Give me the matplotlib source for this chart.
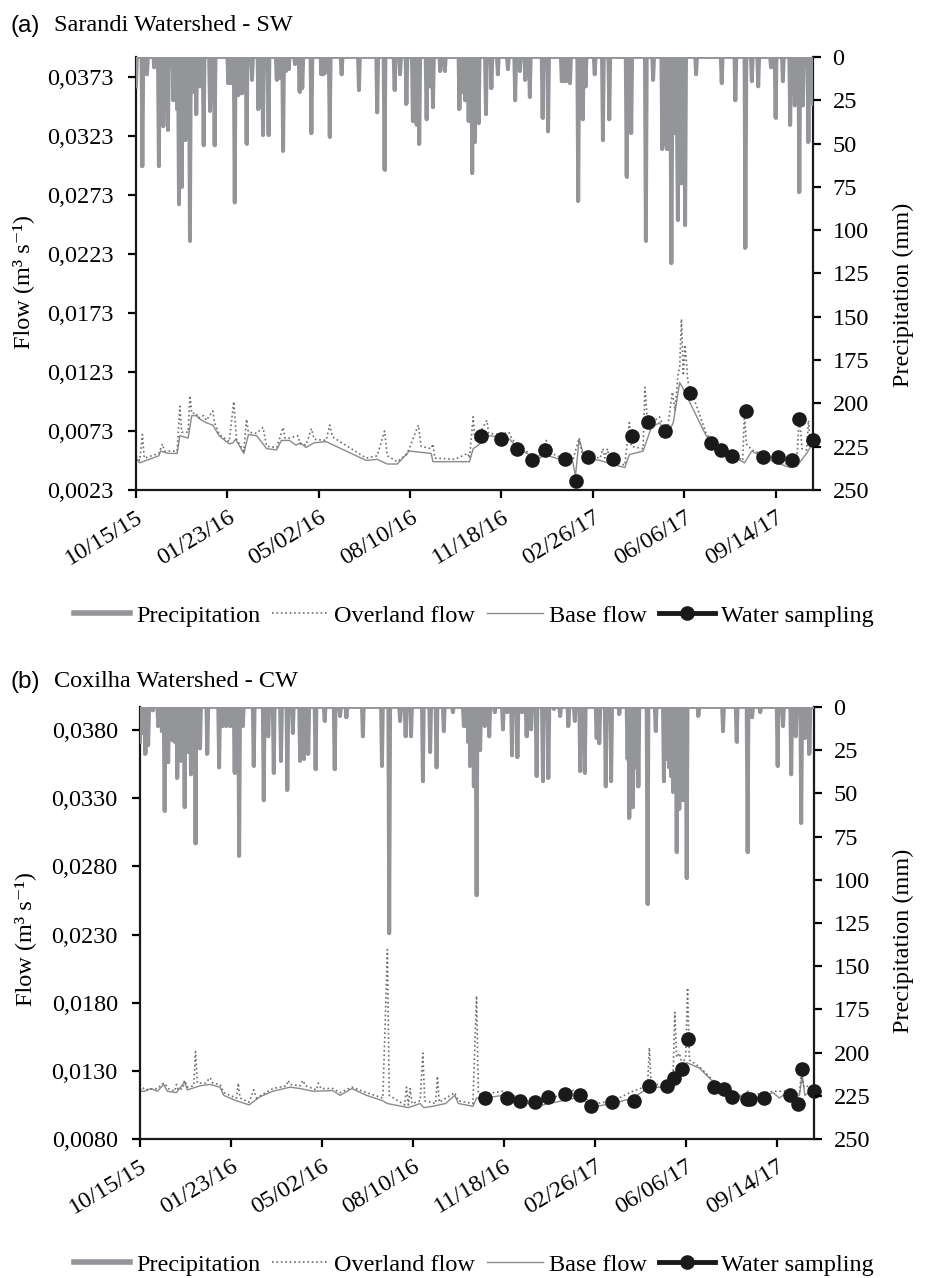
import numpy as np
import matplotlib
matplotlib.use("Agg")
import matplotlib.pyplot as plt
from matplotlib.lines import Line2D

plt.rcParams['font.family'] = ['Liberation Serif', 'DejaVu Serif']

FS = 17.5
PRECIP_COLOR = '#939598'
FLOW_COLOR = '#8a8a8a'
N_DAYS = 742  # 10/15/15 .. early Nov 2017

date_ticks = [0, 100, 200, 300, 400, 500, 600, 700]
date_labels = ['10/15/15', '01/23/16', '05/02/16', '08/10/16',
               '11/18/16', '02/26/17', '06/06/17', '09/14/17']
precip_ticks = [0, 25, 50, 75, 100, 125, 150, 175, 200, 225, 250]

# ---------------- Sarandi Watershed (SW) ----------------
sw_flow_ticks = [0.0023, 0.0073, 0.0123, 0.0173, 0.0223, 0.0273, 0.0323, 0.0373]

sw_rain_days = [0, 7, 12, 20, 25, 30, 35, 39, 41, 43, 45, 47, 50, 52, 54, 56, 59, 61, 63, 66,
                68, 70, 74, 81, 86, 101, 102, 103, 104, 105, 106, 108, 112, 116, 121, 127,
                134, 139, 145, 154, 156, 158, 161, 164, 167, 174, 179, 182, 192, 203, 205,
                207, 212, 225, 244, 264, 272, 283, 289, 296, 303, 307, 310, 318, 322, 325,
                333, 338, 354, 357, 360, 364, 368, 371, 375, 383, 389, 396, 407, 415, 420,
                426, 431, 445, 451, 466, 468, 471, 475, 484, 489, 492, 502, 511, 518, 537,
                542, 558, 566, 576, 577, 578, 579, 580, 581, 582, 583, 584, 585, 586, 587,
                588, 589, 590, 591, 592, 593, 594, 595, 596, 597, 598, 599, 600, 601, 613,
                641, 656, 667, 674, 681, 695, 700, 708, 716, 721, 726, 730, 736, 741]
sw_rain_mm = [17, 63, 10, 6, 63, 40, 42, 6, 25, 20, 30, 85, 75, 40, 48, 30, 106, 15, 20, 33,
              12, 17, 51, 31, 51, 15, 14, 15, 13, 15, 14, 84, 22, 21, 50, 13,
              30, 45, 45, 13, 10, 12, 54, 8, 7, 4, 20, 18, 44, 10, 10,
              9, 46, 10, 19, 32, 65, 19, 10, 27, 37, 39, 50, 36, 17, 29,
              8, 8, 30, 20, 25, 37, 67, 49, 38, 33, 18, 10, 7, 25, 8,
              13, 23, 35, 43, 14, 14, 14, 15, 83, 36, 17, 10, 48, 36, 69,
              44, 106, 13, 53, 40, 50, 30, 45, 53, 53, 35, 20, 30, 119, 25,
              40, 30, 44, 20, 35, 94, 30, 40, 25, 73, 20, 30, 15, 97, 10,
              15, 25, 110, 14, 17, 6, 35, 14, 39, 28, 78, 28, 49, 27]

sw_base_days = [0, 4, 25, 27, 35, 45, 48, 57, 61, 66, 70, 77, 84, 91, 102, 106, 109, 118,
                123, 132, 143, 154, 159, 168, 175, 180, 186, 195, 208, 252, 264, 275, 286,
                299, 323, 325, 365, 369, 373, 386, 398, 409, 418, 433, 442, 447, 464, 478,
                481, 485, 491, 508, 516, 535, 540, 555, 564, 573, 581, 588, 595, 598, 624,
                632, 650, 666, 674, 683, 701, 716, 723, 734, 741]
sw_base_flow = [0.0050, 0.0046, 0.0052, 0.0056, 0.0054, 0.0054, 0.0069, 0.0067, 0.0086,
                0.0086, 0.0083, 0.0080, 0.0078, 0.0069, 0.0062, 0.0063, 0.0066, 0.0054,
                0.0070, 0.0069, 0.0058, 0.0057, 0.0065, 0.0065, 0.0061, 0.0063, 0.0059,
                0.0063, 0.0064, 0.0048, 0.0049, 0.0045, 0.0045, 0.0056, 0.0054, 0.0047,
                0.0047, 0.0058, 0.0060, 0.0069, 0.0068, 0.0066, 0.0058, 0.0052, 0.0050,
                0.0053, 0.0049, 0.0047, 0.0035, 0.0066, 0.0050, 0.0048, 0.0046, 0.0042,
                0.0053, 0.0056, 0.0076, 0.0080, 0.0069, 0.0080, 0.0114, 0.0110, 0.0069,
                0.0062, 0.0053, 0.0046, 0.0056, 0.0052, 0.0046, 0.0042, 0.0043, 0.0054,
                0.0063]

sw_over_days = [0, 4, 7, 9, 25, 29, 31, 45, 48, 50, 57, 59, 61, 66, 68, 74, 77, 84, 86, 91,
                102, 107, 110, 118, 121, 123, 132, 139, 143, 154, 161, 163, 168, 177, 180,
                186, 192, 195, 208, 212, 215, 252, 264, 272, 275, 286, 296, 299, 309, 312,
                323, 325, 327, 349, 363, 365, 369, 371, 384, 386, 398, 408, 411, 418, 433,
                442, 449, 452, 464, 467, 478, 485, 488, 491, 508, 511, 513, 516, 518, 535,
                540, 542, 555, 557, 560, 564, 573, 578, 581, 587, 590, 593, 595, 597, 599,
                601, 604, 624, 632, 650, 664, 666, 668, 674, 683, 701, 716, 723, 726, 729,
                734, 736, 738, 741]
sw_over_flow = [0.0052, 0.0048, 0.0070, 0.0050, 0.0054, 0.0062, 0.0056, 0.0056, 0.0094,
                0.0072, 0.0072, 0.0103, 0.0088, 0.0088, 0.0084, 0.0086, 0.0082, 0.0090,
                0.0080, 0.0070, 0.0064, 0.0098, 0.0066, 0.0056, 0.0083, 0.0072, 0.0071,
                0.0076, 0.0060, 0.0059, 0.0076, 0.0067, 0.0067, 0.0069, 0.0062, 0.0061,
                0.0075, 0.0066, 0.0065, 0.0078, 0.0068, 0.0050, 0.0052, 0.0073, 0.0052,
                0.0047, 0.0053, 0.0058, 0.0078, 0.0060, 0.0058, 0.0062, 0.0050, 0.0049,
                0.0054, 0.0050, 0.0085, 0.0064, 0.0082, 0.0071, 0.0070, 0.0072, 0.0067,
                0.0060, 0.0053, 0.0052, 0.0065, 0.0055, 0.0051, 0.0049, 0.0048, 0.0067,
                0.0055, 0.0052, 0.0050, 0.0058, 0.0050, 0.0058, 0.0049, 0.0044, 0.0080,
                0.0060, 0.0058, 0.0110, 0.0078, 0.0080, 0.0085, 0.0075, 0.0071, 0.0106,
                0.0090, 0.0120, 0.0127, 0.0168, 0.0120, 0.0146, 0.0115, 0.0071, 0.0063,
                0.0055, 0.0048, 0.0089, 0.0062, 0.0057, 0.0054, 0.0048, 0.0044, 0.0045,
                0.0086, 0.0058, 0.0057, 0.0082, 0.0062, 0.0065]

sw_sample_days = [378, 400, 417, 433, 448, 470, 482, 495, 522, 543, 560, 579, 606, 629,
                  640, 652, 668, 686, 703, 718, 726, 741]
sw_sample_flow = [0.0069, 0.0066, 0.0058, 0.0048, 0.0057, 0.0049, 0.0031, 0.0051, 0.0049,
                  0.0069, 0.0081, 0.0073, 0.0105, 0.0063, 0.0057, 0.0052, 0.0090, 0.0051,
                  0.0051, 0.0048, 0.0083, 0.0065]

# ---------------- Coxilha Watershed (CW) ----------------
cw_flow_ticks = [0.0080, 0.0130, 0.0180, 0.0230, 0.0280, 0.0330, 0.0380]

cw_rain_days = [0, 2, 6, 9, 14, 20, 24, 27, 29, 31, 33, 35, 38, 41, 45, 49, 53, 56, 61, 63,
                66, 74, 87, 91, 93, 95, 97, 99, 102, 104, 109, 113, 125, 136, 141, 147, 155,
                162, 168, 176, 180, 185, 193, 203, 214, 220, 227, 245, 266, 274, 286, 292,
                298, 311, 319, 326, 334, 344, 356, 358, 361, 363, 367, 370, 374, 379, 384,
                390, 399, 404, 409, 415, 420, 425, 430, 436, 443, 449, 455, 462, 471, 478,
                484, 489, 502, 505, 512, 518, 527, 536, 538, 540, 542, 545, 548, 558, 567,
                576, 578, 580, 582, 584, 586, 588, 590, 592, 593, 595, 597, 599, 601, 614,
                641, 656, 668, 673, 682, 701, 707, 716, 721, 727, 731, 736]
cw_rain_mm = [20, 15, 27, 22, 2, 11, 14, 60, 18, 32, 15, 19, 20, 41, 31, 58, 26, 39, 79, 22,
              24, 27, 35, 11, 10, 11, 10, 11, 11, 38, 86, 11, 34, 54, 17, 38, 31,
              48, 15, 31, 30, 27, 36, 8, 36, 5, 6, 17, 34, 131, 8, 17,
              17, 43, 26, 35, 14, 3, 11, 11, 20, 34, 46, 109, 25, 11, 17,
              3, 13, 3, 28, 29, 3, 17, 13, 40, 43, 41, 1, 5, 11, 8,
              37, 38, 18, 21, 46, 43, 4, 30, 64, 40, 58, 35, 46, 114, 14,
              43, 30, 30, 35, 40, 49, 35, 84, 40, 59, 45, 54, 35, 99, 5,
              14, 20, 84, 6, 3, 34, 11, 39, 17, 67, 18, 27]

cw_base_days = [0, 5, 12, 19, 26, 30, 40, 49, 52, 66, 77, 88, 92, 106, 120, 132, 146, 165,
                176, 190, 212, 220, 233, 249, 267, 272, 295, 308, 312, 322, 336, 346, 350,
                366, 370, 379, 399, 421, 436, 478, 491, 502, 520, 542, 560, 586, 593, 601,
                615, 630, 641, 656, 670, 680, 696, 703, 711, 718, 725, 728, 731, 741]
cw_base_flow = [0.0115, 0.0115, 0.0117, 0.0115, 0.0120, 0.0115, 0.0114, 0.0122, 0.0116,
                0.0119, 0.0120, 0.0118, 0.0112, 0.0108, 0.0105, 0.0111, 0.0115, 0.0118,
                0.0117, 0.0115, 0.01155, 0.0112, 0.0117, 0.0112, 0.0108, 0.0106, 0.0103,
                0.0106, 0.0103, 0.0104, 0.0106, 0.0112, 0.0106, 0.0104, 0.0110, 0.0110,
                0.0112, 0.0107, 0.0104, 0.0110, 0.0107, 0.0104, 0.0106, 0.0110, 0.0118,
                0.0118, 0.0128, 0.0136, 0.0132, 0.0122, 0.0117, 0.0111, 0.0111, 0.0110,
                0.0114, 0.0110, 0.0114, 0.0110, 0.0112, 0.0127, 0.0112, 0.0117]

cw_over_days = [0, 3, 5, 19, 26, 28, 31, 38, 40, 42, 47, 49, 52, 59, 61, 63, 72, 77, 80, 88,
                92, 106, 108, 110, 120, 125, 128, 146, 161, 163, 165, 176, 179, 182, 194,
                196, 199, 212, 220, 233, 249, 267, 272, 274, 291, 293, 295, 297, 299, 308,
                311, 313, 325, 327, 329, 346, 350, 366, 370, 372, 379, 399, 421, 436, 478,
                491, 502, 520, 542, 558, 560, 562, 580, 586, 588, 590, 593, 596, 600, 602,
                604, 615, 630, 641, 656, 666, 668, 670, 696, 711, 725, 727, 730, 736, 741]
cw_over_flow = [0.0116, 0.0118, 0.0116, 0.0117, 0.0121, 0.0120, 0.0117, 0.0115, 0.0120,
                0.0116, 0.0117, 0.0123, 0.0118, 0.0119, 0.0144, 0.0121, 0.0121, 0.0125,
                0.0121, 0.0120, 0.0114, 0.0110, 0.0121, 0.0110, 0.0107, 0.0116, 0.0110,
                0.0117, 0.0119, 0.0123, 0.0120, 0.0119, 0.0123, 0.0119, 0.0116, 0.0121,
                0.0117, 0.0117, 0.0114, 0.0118, 0.0114, 0.0110, 0.0219, 0.0112, 0.0105,
                0.0118, 0.0105, 0.0117, 0.0106, 0.0108, 0.0143, 0.0108, 0.0106, 0.0126,
                0.0107, 0.0114, 0.0108, 0.0106, 0.0185, 0.0113, 0.0113, 0.0115, 0.0109,
                0.0106, 0.0116, 0.0109, 0.0106, 0.0108, 0.0115, 0.0119, 0.0147, 0.0120,
                0.0120, 0.0125, 0.0173, 0.0140, 0.0143, 0.0135, 0.0140, 0.0191, 0.0138,
                0.0133, 0.0123, 0.0118, 0.0112, 0.0112, 0.0116, 0.0112, 0.0115, 0.0115,
                0.0113, 0.0128, 0.0118, 0.0119, 0.0118]

cw_sample_days = [379, 404, 418, 434, 449, 467, 484, 496, 519, 543, 560, 579, 587, 596,
                  603, 631, 642, 651, 667, 671, 686, 715, 723, 728, 741]
cw_sample_flow = [0.0110, 0.0110, 0.0108, 0.0107, 0.0111, 0.0113, 0.0112, 0.0104, 0.0107,
                  0.0108, 0.0119, 0.0119, 0.01245, 0.0131, 0.0153, 0.0118, 0.0117, 0.0111,
                  0.0109, 0.0109, 0.0110, 0.0112, 0.0106, 0.0131, 0.0115]


def fmt_flow(v):
    return f'{v:.4f}'.replace('.', ',')


def draw_panel(rect, flow_ticks, rain_days, rain_mm, base_days, base_flow,
               over_days, over_flow, sample_days, sample_flow):
    ax = fig.add_axes(rect)
    ax2 = ax.twinx()

    ax.plot(base_days, base_flow, color=FLOW_COLOR, lw=1.0, zorder=2)
    ax.plot(over_days, over_flow, color='#6d6d6d', lw=1.2, ls=':', zorder=2)
    ax.plot(sample_days, sample_flow, ls='none', marker='o', ms=9.5,
            color='#1a1a1a', zorder=4, clip_on=False)

    # daily rainfall hanging from the top axis (zero days included)
    rain = np.zeros(N_DAYS)
    rain[rain_days] = rain_mm
    ax2.plot(np.arange(N_DAYS), rain, color=PRECIP_COLOR, lw=2.8,
             solid_joinstyle='round', zorder=3)
    ax2.vlines(rain_days, 0, rain_mm, color=PRECIP_COLOR, lw=2.8,
               capstyle='round', zorder=3)

    ax.set_xlim(0, N_DAYS - 1)
    ax.set_ylim(flow_ticks[0], flow_ticks[-1] + 0.0017)
    ax2.set_ylim(250, 0)

    ax.set_yticks(flow_ticks)
    ax.set_yticklabels([fmt_flow(v) for v in flow_ticks], fontsize=FS)
    ax.set_xticks(date_ticks)
    ax.set_xticklabels(date_labels, fontsize=FS, rotation=31, ha='right',
                       va='top', rotation_mode='anchor')
    ax2.set_yticks(precip_ticks)
    ax2.set_yticklabels([str(v) for v in precip_ticks], fontsize=FS)

    for a in (ax, ax2):
        for s in a.spines.values():
            s.set_linewidth(1.6)
            s.set_color('#1a1a1a')
        a.spines['top'].set_visible(False)
    ax.spines['right'].set_visible(False)
    ax2.spines['left'].set_visible(False)
    ax2.spines['bottom'].set_visible(False)
    ax.tick_params(axis='y', direction='out', length=6, width=1.6, pad=10)
    ax.tick_params(axis='x', direction='out', length=6, width=1.6, pad=6)
    ax2.tick_params(axis='y', direction='out', length=6, width=1.6, pad=8)
    return ax, ax2


def add_legend(y):
    handles = [
        Line2D([], [], color=PRECIP_COLOR, lw=4),
        Line2D([], [], color='#6d6d6d', lw=1.2, ls=':'),
        Line2D([], [], color=FLOW_COLOR, lw=1.0),
        Line2D([], [], color='#1a1a1a', lw=3.5, marker='o', ms=9.5),
    ]
    labels = ['Precipitation', 'Overland flow', 'Base flow', 'Water sampling']
    fig.legend(handles, labels, loc='center', bbox_to_anchor=(0.509, y), ncol=4,
               frameon=False, fontsize=FS, handlelength=2.3, handletextpad=0.25,
               columnspacing=0.5)


fig = plt.figure(figsize=(9.31, 12.78), dpi=100)

draw_panel([0.1461, 0.6166, 0.7272, 0.3388], sw_flow_ticks, sw_rain_days, sw_rain_mm,
           sw_base_days, sw_base_flow, sw_over_days, sw_over_flow,
           sw_sample_days, sw_sample_flow)
draw_panel([0.1504, 0.1088, 0.7239, 0.3380], cw_flow_ticks, cw_rain_days, cw_rain_mm,
           cw_base_days, cw_base_flow, cw_over_days, cw_over_flow,
           cw_sample_days, cw_sample_flow)

add_legend(0.518)
add_legend(0.0102)

for ytop, tag, name in ((0.9797, '(a)', 'Sarandi Watershed - SW'),
                        (0.4664, '(b)', 'Coxilha Watershed - CW')):
    fig.text(0.011, ytop, tag, family='Liberation Sans', fontsize=FS, va='center')
    fig.text(0.058, ytop, name, fontsize=FS, va='center')

flow_label = 'Flow (m³ s⁻¹)'
fig.text(0.025, 0.779, flow_label, rotation=90, fontsize=FS, va='center', ha='center')
fig.text(0.027, 0.265, flow_label, rotation=90, fontsize=FS, va='center', ha='center')
fig.text(0.970, 0.769, 'Precipitation (mm)', rotation=90, fontsize=FS, va='center', ha='center')
fig.text(0.970, 0.264, 'Precipitation (mm)', rotation=90, fontsize=FS, va='center', ha='center')

fig.savefig('out.png', dpi=100)
